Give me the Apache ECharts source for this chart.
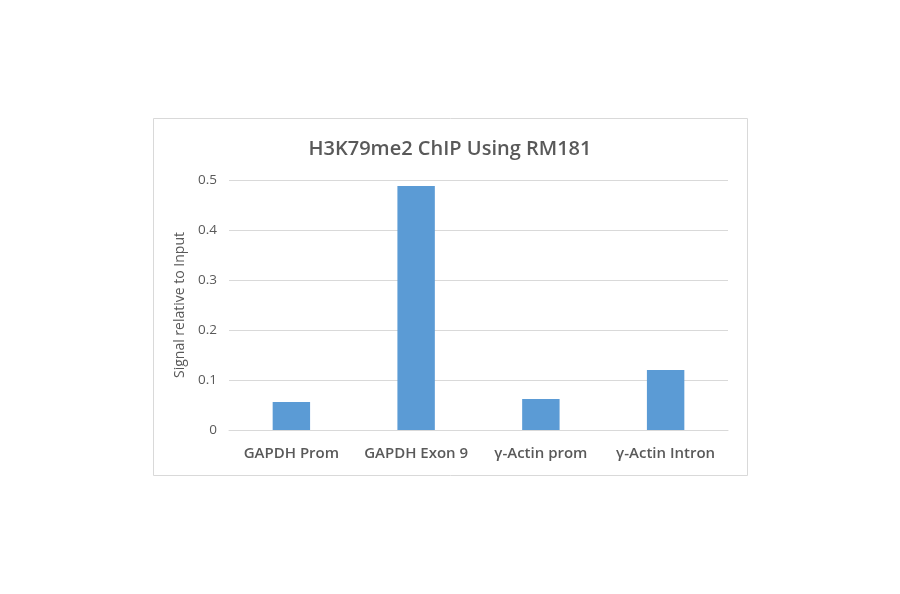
<!DOCTYPE html>
<html><head><meta charset="utf-8">
<script src="https://cdn.jsdelivr.net/npm/echarts@6/dist/echarts.min.js"></script>
<style>html,body{margin:0;padding:0;background:#fff}#c{width:900px;height:594px}</style>
</head><body><div id="c"></div>
<script>
const categories = ['GAPDH Prom', 'GAPDH Exon 9', 'γ-Actin prom', 'γ-Actin Intron'];
const values = [0.056, 0.488, 0.062, 0.12];
const yTicks = [0, 0.1, 0.2, 0.3, 0.4, 0.5];

const chart = echarts.init(document.getElementById('c'));
chart.setOption({
  backgroundColor: '#fff',
  animation: false,
  title: {
    text: 'H3K79me2 ChIP Using RM181',
    left: 'center', top: 134,
    textStyle: { fontFamily: 'Open Sans', fontSize: 20, fontWeight: 600, color: '#595959' }
  },
  graphic: [{
    type: 'rect', shape: { x: 153.5, y: 118.5, width: 594, height: 357 },
    style: { fill: 'none', stroke: '#d9d9d9', lineWidth: 1 }, silent: true
  }],
  grid: { left: 229, right: 172, top: 180, bottom: 164 },
  xAxis: {
    type: 'category', data: categories,
    axisLine: { lineStyle: { color: '#d9d9d9' } },
    axisTick: { show: false },
    axisLabel: { interval: 0, fontFamily: 'Open Sans', fontSize: 15, fontWeight: 600, color: '#595959', margin: 16 }
  },
  yAxis: {
    type: 'value', min: 0, max: 0.5, interval: 0.1,
    name: 'Signal relative to Input', nameLocation: 'middle', nameGap: 37,
    nameTextStyle: { fontFamily: 'Open Sans', fontSize: 14, color: '#595959' },
    axisLine: { show: false }, axisTick: { show: false },
    axisLabel: { fontFamily: 'Open Sans', fontSize: 13.5, color: '#595959', margin: 12,
      formatter: v => { const t = yTicks.find(x => Math.abs(x - v) < 1e-9); return t === undefined ? '' : String(t); } },
    splitLine: { lineStyle: { color: '#d9d9d9' } }
  },
  series: [{
    type: 'bar', data: values, barWidth: '30%',
    itemStyle: { color: '#5b9bd5' }
  }]
});
</script></body></html>
